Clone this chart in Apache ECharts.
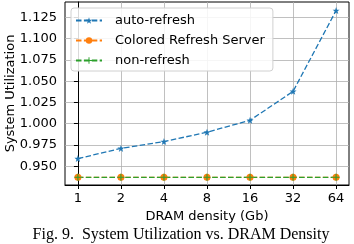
<!DOCTYPE html>
<html>
<head>
<meta charset="utf-8">
<script src="https://cdn.jsdelivr.net/npm/echarts@6/dist/echarts.min.js"></script>
<style>
  html, body { margin: 0; padding: 0; background: #fff; }
  #chart { width: 354px; height: 244px; }
</style>
</head>
<body>
<div id="chart"></div>
<script>
// DRAM density (Gb) categories
const densities = ['1', '2', '4', '8', '16', '32', '64']
const autoRefresh = [0.959, 0.971, 0.979, 0.990, 1.004, 1.038, 1.133]
const coloredRefresh = [0.937, 0.937, 0.937, 0.937, 0.937, 0.937, 0.937]
const nonRefresh = [0.937, 0.937, 0.937, 0.937, 0.937, 0.937, 0.937]
const yTicks = [0.950, 0.975, 1.000, 1.025, 1.050, 1.075, 1.100, 1.125]

const starPath = 'path://M0,-10L2.35,-3.24L9.51,-3.09L3.8,1.24L5.88,8.09L0,4L-5.88,8.09L-3.8,1.24L-9.51,-3.09L-2.35,-3.24Z'
const plusPath = 'path://M-1.5,-10L1.5,-10L1.5,-1.5L10,-1.5L10,1.5L1.5,1.5L1.5,10L-1.5,10L-1.5,1.5L-10,1.5L-10,-1.5L-1.5,-1.5Z'

const toPoints = (vals) => vals.map((v, i) => [i, v])
const xIdx = densities.map((_, i) => i)

const chart = echarts.init(document.getElementById('chart'), null, { renderer: 'canvas' })

const dash = [5.5, 2.4]
const font = 'DejaVu Sans'

const option = {
  animation: false,
  backgroundColor: '#fff',
  textStyle: { fontFamily: font },
  title: {
    text: 'Fig. 9.  System Utilization vs. DRAM Density',
    left: 181,
    top: 227,
    textAlign: 'center',
    padding: 0,
    textStyle: { fontFamily: 'Liberation Serif', fontSize: 16, fontWeight: 'normal', color: '#000' },
  },
  grid: {
    left: 65,
    right: 5,
    top: 2,
    bottom: 59,
    outerBoundsMode: 'none',
    containLabel: false,
    show: true,
    borderColor: '#000',
    borderWidth: 1,
  },
  legend: {
    left: 71,
    top: 8,
    orient: 'vertical',
    itemWidth: 26,
    itemHeight: 8,
    itemGap: 7,
    padding: [6, 8, 4, 4],
    backgroundColor: 'rgba(255,255,255,0.85)',
    borderColor: '#d0d0d0',
    borderWidth: 1,
    borderRadius: 3,
    textStyle: { fontFamily: font, fontSize: 13, color: '#000', padding: [0, 0, 0, 8] },
  },
  xAxis: {
    type: 'value',
    min: -0.3,
    max: 6.3,
    name: 'DRAM density (Gb)',
    nameLocation: 'middle',
    nameGap: 25,
    nameMoveOverlap: false,
    nameTextStyle: { fontFamily: font, fontSize: 13, color: '#000' },
    axisLine: { show: true, lineStyle: { color: '#000', width: 1 } },
    axisTick: { show: true, length: 4, customValues: xIdx, lineStyle: { color: '#000' } },
    axisLabel: {
      customValues: xIdx,
      margin: 7,
      fontSize: 13,
      color: '#000',
      formatter: (v) => densities[Math.round(v)],
    },
    splitLine: { show: true, lineStyle: { color: '#b0b0b0', width: 0.8 } },
  },
  yAxis: {
    type: 'value',
    min: 0.928,
    max: 1.143,
    name: 'System Utilization',
    nameLocation: 'middle',
    nameGap: 48,
    nameMoveOverlap: false,
    nameTextStyle: { fontFamily: font, fontSize: 13, color: '#000' },
    axisLine: { show: true, lineStyle: { color: '#000', width: 1 } },
    axisTick: { show: true, length: 4, customValues: yTicks, lineStyle: { color: '#000' } },
    axisLabel: {
      customValues: yTicks,
      margin: 8,
      fontSize: 13,
      color: '#000',
      formatter: (v) => v.toFixed(3),
    },
    splitLine: { show: true, lineStyle: { color: '#b0b0b0', width: 0.8 } },
  },
  series: [
    {
      name: 'auto-refresh',
      type: 'line',
      data: toPoints(autoRefresh),
      symbol: starPath,
      symbolSize: 7,
      color: '#1f77b4',
      lineStyle: { width: 1.3, type: dash, color: '#1f77b4' },
      itemStyle: { color: '#1f77b4' },
    },
    {
      name: 'Colored Refresh Server',
      type: 'line',
      data: toPoints(coloredRefresh),
      symbol: 'circle',
      symbolSize: 7,
      color: '#ff7f0e',
      lineStyle: { width: 1.3, type: dash, color: '#ff7f0e' },
      itemStyle: { color: '#ff7f0e' },
    },
    {
      name: 'non-refresh',
      type: 'line',
      data: toPoints(nonRefresh),
      symbol: plusPath,
      symbolSize: 7,
      color: '#2ca02c',
      lineStyle: { width: 1.3, type: dash, color: '#2ca02c' },
      itemStyle: { color: '#2ca02c' },
    },
  ],
}

chart.setOption(option)
</script>
</body>
</html>
